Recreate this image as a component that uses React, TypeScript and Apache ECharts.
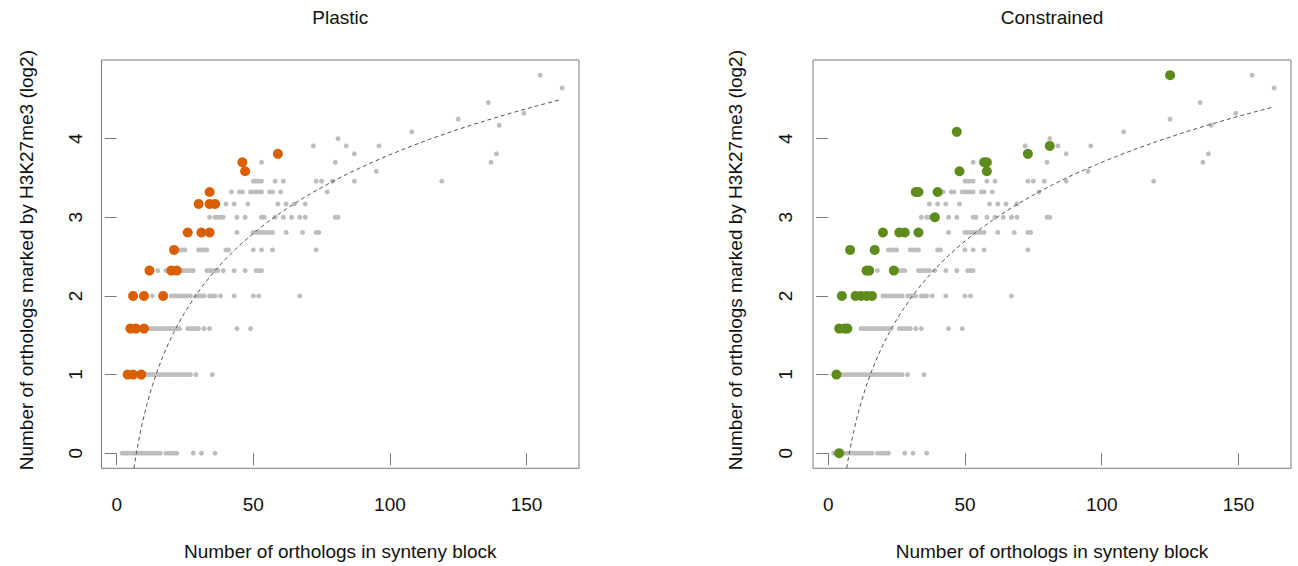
import React, { useEffect, useRef } from "react";
import * as echarts from "echarts";

// Tick labels
const xTicks = [0, 50, 100, 150];
const yTicks = [0, 1, 2, 3, 4];

// Gray points (all synteny blocks): one y level (log2 of marked count) and its x values
const grayLevels = [0, 1, 1.585, 2, 2.322, 2.585, 2.807, 3, 3.17, 3.322, 3.459, 3.585, 3.7, 3.807, 3.907, 4, 4.087, 4.17, 4.248, 4.322, 4.459, 4.644, 4.807];
const grayXs = [
  [2, 3, 4, 5, 6, 7, 8, 9, 10, 11, 12, 13, 14, 15, 16, 18, 19, 20, 21, 22, 28, 31, 36],
  [4, 5, 6, 7, 8, 9, 10, 11, 12, 13, 14, 15, 16, 17, 18, 19, 20, 21, 22, 23, 24, 25, 26, 27, 29, 35],
  [12, 13, 14, 15, 16, 17, 18, 19, 20, 21, 22, 23, 26, 27, 28, 29, 30, 32, 34, 44, 49],
  [13, 20, 21, 22, 23, 24, 25, 26, 27, 29, 30, 31, 32, 34, 35, 36, 38, 43, 50, 52, 67],
  [15, 18, 24, 25, 26, 27, 28, 33, 34, 35, 36, 37, 39, 43, 47, 51, 52, 53],
  [22, 23, 24, 25, 30, 31, 32, 33, 40, 41, 50, 53, 57, 73],
  [44, 50, 51, 52, 53, 54, 55, 56, 57, 62, 68, 73, 74],
  [34, 36, 37, 38, 39, 44, 47, 53, 54, 58, 61, 64, 67, 69, 80, 81],
  [37, 40, 43, 48, 59, 62, 65, 69],
  [42, 45, 46, 49, 50, 51, 52, 53, 56, 57, 60, 77],
  [50, 51, 52, 53, 58, 61, 73, 75, 79, 87, 119],
  [95],
  [53, 80, 137],
  [87, 139],
  [72, 84, 96],
  [81],
  [108],
  [140],
  [125],
  [149],
  [136],
  [163],
  [155],
];

// Plastic (orange) highlighted blocks
const plasticX = [4, 6, 9, 5, 7, 10, 6, 10, 17, 12, 20, 22, 21, 26, 31, 34, 30, 34, 36, 34, 47, 46, 59];
const plasticY = [1, 1, 1, 1.585, 1.585, 1.585, 2, 2, 2, 2.322, 2.322, 2.322, 2.585, 2.807, 2.807, 2.807, 3.17, 3.17, 3.17, 3.322, 3.585, 3.7, 3.807];

// Constrained (green) highlighted blocks
const constrainedX = [4, 3, 4, 6, 7, 5, 10, 12, 14, 16, 14, 15, 24, 8, 17, 20, 26, 28, 33, 39, 32, 33, 40, 48, 58, 57, 58, 73, 81, 47, 125];
const constrainedY = [0, 1, 1.585, 1.585, 1.585, 2, 2, 2, 2, 2, 2.322, 2.322, 2.322, 2.585, 2.585, 2.807, 2.807, 2.807, 2.807, 3, 3.322, 3.322, 3.322, 3.585, 3.585, 3.7, 3.7, 3.807, 3.907, 4.087, 4.807];

// Dashed expected curves
const plasticCurveX = [6.3, 6.7, 7.2, 8, 9, 10, 11, 12, 13.5, 15, 17, 19, 21, 24, 28.5, 32, 36, 40, 45, 50, 56, 63, 70, 78, 85, 93, 100, 108, 115, 122, 130, 138, 146, 154, 162.6];
const plasticCurveY = [-0.193, -0.104, 0, 0.152, 0.322, 0.474, 0.611, 0.737, 0.907, 1.059, 1.24, 1.4, 1.544, 1.737, 1.985, 2.152, 2.322, 2.474, 2.644, 2.796, 2.96, 3.129, 3.281, 3.437, 3.562, 3.691, 3.796, 3.907, 3.998, 4.083, 4.175, 4.26, 4.342, 4.419, 4.497];
const constrainedCurveX = [6.75, 7.2, 7.7, 8.5, 9.5, 10.5, 11.5, 13, 14.5, 16, 18, 20, 23, 26, 30, 34, 38, 43, 48, 54, 60, 67, 75, 82, 90, 98, 105, 113, 120, 128, 135, 143, 150, 157, 162.8];
const constrainedCurveY = [-0.19, -0.097, 0, 0.143, 0.303, 0.448, 0.579, 0.756, 0.913, 1.055, 1.225, 1.377, 1.579, 1.755, 1.962, 2.143, 2.303, 2.481, 2.64, 2.81, 2.962, 3.121, 3.284, 3.413, 3.549, 3.67, 3.77, 3.876, 3.962, 4.055, 4.132, 4.215, 4.284, 4.35, 4.402];

const FONT = "'Liberation Sans', Arial, Helvetica, sans-serif";
const TEXT = "#111111";
const LINE = "#7a7a7a";

export default function App() {
  const ref = useRef<HTMLDivElement>(null);
  useEffect(() => {
    if (!ref.current) return;
    const chart = echarts.init(ref.current, null, { renderer: "svg" });
    const grayData: number[][] = [];
    grayLevels.forEach((y, i) => grayXs[i].forEach((x) => grayData.push([x, y])));
    const zip = (a: number[], b: number[]) => a.map((v, i) => [v, b[i]]);

    const panels = [
      { left: 101.5, width: 477.5, title: "Plastic", color: "#D95F02", pts: zip(plasticX, plasticY), curve: zip(plasticCurveX, plasticCurveY), ylabX: 26, yLabMargin: 17 },
      { left: 813, width: 478, title: "Constrained", color: "#5E8C1C", pts: zip(constrainedX, constrainedY), curve: zip(constrainedCurveX, constrainedCurveY), ylabX: 735, yLabMargin: 18 },
    ];
    const top = 60;
    const height = 408.3;

    const grid = panels.map((p) => ({ left: p.left, top, width: p.width, height, show: true, borderColor: LINE, borderWidth: 1, backgroundColor: "transparent" }));
    const xAxis = panels.map((p, i) => ({
      type: "value", gridIndex: i, min: -5.56, max: 169.2,
      axisLine: { show: false }, splitLine: { show: false },
      axisTick: { show: true, length: 12, lineStyle: { color: LINE, width: 1 }, customValues: xTicks },
      axisLabel: { show: true, customValues: xTicks, margin: 26.5, fontSize: 19, fontFamily: FONT, color: TEXT },
    }));
    const yAxis = panels.map((p, i) => ({
      type: "value", gridIndex: i, min: -0.192, max: 5.0,
      axisLine: { show: false }, splitLine: { show: false },
      axisTick: { show: true, length: 12, lineStyle: { color: LINE, width: 1 }, customValues: yTicks },
      axisLabel: { show: true, customValues: yTicks, rotate: 90, margin: p.yLabMargin, fontSize: 19, fontFamily: FONT, color: TEXT },
    }));
    const series: any[] = [];
    panels.forEach((p, i) => {
      series.push({ type: "scatter", xAxisIndex: i, yAxisIndex: i, data: grayData, symbol: "circle", symbolSize: 5, itemStyle: { color: "#bebebe", opacity: 1 }, silent: true, z: 2 });
      series.push({ type: "line", xAxisIndex: i, yAxisIndex: i, data: p.curve, showSymbol: false, smooth: false, clip: true, lineStyle: { color: "#555555", width: 1, type: [4, 3] }, silent: true, z: 3 });
      series.push({ type: "scatter", xAxisIndex: i, yAxisIndex: i, data: p.pts, symbol: "circle", symbolSize: 10, itemStyle: { color: p.color, opacity: 1 }, silent: true, z: 4 });
    });

    const txt = (text: string, x: number, y: number, rotation = 0) => ({
      type: "text", x, y, rotation, silent: true,
      style: { text, fontSize: 19, fontFamily: FONT, fill: TEXT, align: "center", verticalAlign: "middle", textAlign: "center", textVerticalAlign: "middle" },
    });
    const graphic: any[] = [];
    panels.forEach((p) => {
      const cx = p.left + p.width / 2;
      graphic.push(txt(p.title, cx, 17.5));
      graphic.push(txt("Number of orthologs in synteny block", cx, 551));
      graphic.push(txt("Number of orthologs marked by H3K27me3 (log2)", p.ylabX, top + height / 2 - 4, Math.PI / 2));
    });

    chart.setOption({
      animation: false,
      backgroundColor: "#ffffff",
      textStyle: { fontFamily: FONT },
      grid, xAxis, yAxis, series, graphic,
    });
    return () => chart.dispose();
  }, []);
  return <div ref={ref} style={{ position: "fixed", left: 0, top: 0, width: 1298, height: 566 }} />;
}
